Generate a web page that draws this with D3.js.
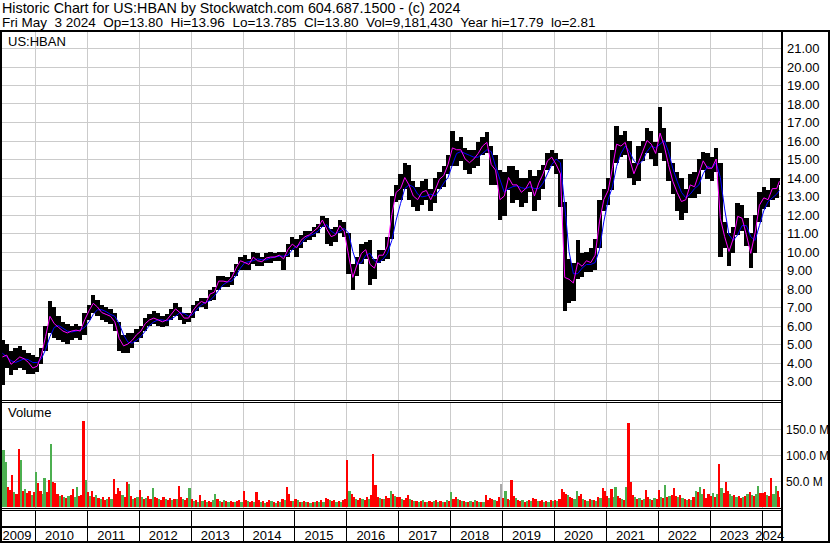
<!DOCTYPE html>
<html lang="en">
<head>
<meta charset="UTF-8">
<title>US:HBAN historic chart</title>
<script src="https://d3js.org/d3.v7.min.js"></script>
<style>
  body { margin: 0; background: #fff; }
  text { font-family: "Liberation Sans", Arial, sans-serif; font-size: 13px; fill: #000; }
</style>
</head>
<body>
<svg id="chart"></svg>
<script>
const width = 830, height = 543;

// monthly data, May 2009 .. May 2024
const firstMonth = "2009-05";
const lastDay = "2024-05-10";
const years = ["2009","2010","2011","2012","2013","2014","2015","2016","2017","2018","2019","2020","2021","2022","2023","2024"];
const priceTicks = [3,4,5,6,7,8,9,10,11,12,13,14,15,16,17,18,19,20,21];
const volTicks = [50, 100, 150];

const hi = [
  5.2, 5.0, 4.6, 4.8, 4.9, 4.7, 4.5, 4.4,
  4.3, 4.8, 6.0, 7.3, 7.0, 6.5, 6.2, 6.1, 6.0, 6.1, 6.0, 6.7,
  7.1, 7.65, 7.4, 7.1, 7.0, 6.9, 6.7, 6.2, 5.5, 5.6, 5.6, 5.8,
  6.0, 6.4, 6.6, 6.8, 6.7, 6.5, 6.6, 6.9, 7.2, 7.0, 6.7, 6.7,
  7.1, 7.3, 7.5, 7.5, 7.9, 8.1, 8.7, 8.7, 8.6, 8.9, 9.3, 9.7,
  9.8, 9.6, 10.0, 9.9, 9.7, 9.9, 10.0, 9.9, 10.0, 10.0, 10.4, 10.8,
  10.7, 10.9, 11.1, 11.1, 11.3, 11.5, 11.9, 11.8, 11.2, 11.3, 11.7, 11.6,
  11.0, 9.3, 9.7, 10.4, 10.5, 10.6, 9.6, 10.1, 10.1, 10.8, 13.0, 13.6,
  14.2, 14.8, 14.7, 13.8, 13.5, 13.8, 13.9, 13.4, 14.0, 14.3, 14.6, 15.2,
  16.5, 16.0, 16.2, 15.6, 15.5, 15.5, 15.9, 16.2, 16.45, 15.7, 15.2, 14.4,
  14.3, 14.6, 14.6, 14.4, 14.0, 14.0, 14.4, 14.1, 14.4, 14.7, 15.3, 15.5,
  15.3, 15.0, 12.7, 9.6, 9.4, 10.6, 9.9, 10.0, 10.2, 10.7, 12.8, 13.4,
  14.0, 15.5, 16.8, 16.3, 16.5, 16.0, 14.8, 15.7, 16.0, 16.7, 16.5, 15.9,
  17.8, 16.7, 15.9, 14.8, 14.3, 14.0, 13.4, 14.2, 14.3, 15.0, 15.4, 15.3,
  15.1, 15.6, 14.8, 11.6, 11.0, 11.3, 12.6, 12.5, 11.8, 11.0, 12.0, 13.2,
  13.5, 13.3, 14.0, 14.0, 14.0
];
const lo = [
  2.81, 3.7, 3.3, 3.6, 3.7, 3.6, 3.4, 3.4,
  3.5, 3.9, 4.6, 5.6, 5.3, 5.2, 5.1, 5.0, 5.2, 5.3, 5.2, 5.5,
  6.3, 6.7, 6.5, 6.3, 6.2, 6.1, 5.7, 4.6, 4.5, 4.5, 4.8, 5.1,
  5.3, 5.7, 6.0, 6.1, 6.0, 5.9, 6.0, 6.3, 6.5, 6.3, 6.1, 6.2,
  6.4, 6.8, 7.0, 6.9, 7.3, 7.4, 7.9, 8.1, 8.1, 8.2, 8.7, 9.0,
  9.0, 9.0, 9.3, 9.2, 9.2, 9.4, 9.4, 9.5, 9.5, 9.0, 9.7, 10.1,
  9.7, 10.2, 10.5, 10.6, 10.8, 11.0, 11.3, 10.4, 10.3, 10.5, 11.0, 10.8,
  8.8, 7.9, 8.7, 9.3, 9.6, 8.2, 8.5, 9.4, 9.5, 9.6, 10.7, 12.7,
  12.8, 13.4, 12.8, 12.4, 12.2, 12.5, 12.8, 12.2, 12.6, 13.4, 13.5, 14.2,
  14.6, 14.6, 14.9, 14.4, 14.2, 14.5, 14.6, 15.2, 15.3, 13.6, 13.6, 11.7,
  11.9, 13.3, 12.6, 12.8, 12.4, 12.6, 13.2, 12.2, 12.8, 13.4, 14.4, 14.6,
  14.2, 12.4, 6.8, 7.2, 7.3, 8.5, 8.6, 8.9, 8.9, 9.0, 10.2, 12.2,
  12.5, 13.3, 14.8, 15.1, 15.2, 14.0, 13.6, 13.8, 14.9, 15.3, 15.0, 14.6,
  15.3, 14.9, 13.8, 13.1, 12.2, 11.7, 12.1, 12.9, 12.9, 13.1, 14.4, 13.9,
  13.8, 14.3, 9.7, 10.2, 9.2, 9.9, 10.9, 11.1, 10.3, 9.1, 9.9, 11.6,
  12.3, 12.4, 12.8, 12.9, 13.6
];
// short moving average (magenta)
const maShort = [
  4.3, 4.4, 3.9, 4.1, 4.3, 4.2, 4.0, 3.7,
  3.8, 4.4, 5.4, 6.5, 6.1, 5.9, 5.7, 5.6, 5.7, 5.75, 5.7, 6.3,
  6.8, 7.2, 7.0, 6.7, 6.6, 6.5, 6.2, 5.3, 4.9, 5.0, 5.2, 5.5,
  5.7, 6.1, 6.3, 6.4, 6.3, 6.2, 6.3, 6.6, 6.9, 6.7, 6.4, 6.4,
  6.8, 7.1, 7.3, 7.2, 7.7, 7.8, 8.4, 8.4, 8.35, 8.6, 9.1, 9.5,
  9.4, 9.3, 9.7, 9.5, 9.45, 9.65, 9.7, 9.7, 9.8, 9.6, 10.1, 10.4,
  10.2, 10.6, 10.8, 10.9, 11.1, 11.3, 11.7, 11.2, 10.8, 10.9, 11.4, 11.1,
  9.8, 8.6, 9.3, 9.9, 10.1, 9.3, 9.1, 9.8, 9.8, 10.3, 12.0, 13.2,
  13.4, 14.0, 13.6, 13.0, 12.8, 13.2, 13.3, 12.8, 13.3, 13.9, 14.1, 14.7,
  15.6, 15.5, 15.5, 15.0, 14.8, 15.0, 15.3, 15.7, 15.9, 14.7, 14.4, 12.8,
  13.0, 14.0, 13.6, 13.6, 13.2, 13.4, 13.8, 13.0, 13.7, 14.2, 14.9, 15.1,
  14.7, 14.2, 8.6, 8.5, 8.3, 9.4, 9.2, 9.5, 9.4, 9.8, 11.6, 12.8,
  13.3, 14.5, 15.8, 15.7, 15.9, 15.0, 14.2, 14.8, 15.4, 16.0, 15.8, 15.3,
  16.4, 15.7, 14.7, 13.8, 13.2, 12.7, 12.8, 13.6, 13.5, 14.2, 14.9, 14.5,
  14.5, 15.0, 11.8, 10.8, 10.0, 10.7, 11.9, 11.8, 10.9, 9.9, 11.0, 12.5,
  12.9, 12.8, 13.4, 13.4, 13.8
];
// long moving average (blue)
const maLong = [
  4.5, 4.3, 4.1, 4.0, 4.1, 4.2, 4.15, 4.0,
  4.0, 4.2, 4.7, 5.4, 5.9, 6.0, 5.85, 5.7, 5.65, 5.7, 5.75, 5.9,
  6.2, 6.6, 6.85, 6.85, 6.75, 6.6, 6.5, 6.1, 5.5, 5.1, 5.05, 5.2,
  5.4, 5.7, 6.0, 6.2, 6.3, 6.3, 6.25, 6.35, 6.5, 6.7, 6.65, 6.5,
  6.6, 6.9, 7.1, 7.25, 7.35, 7.6, 7.9, 8.2, 8.35, 8.4, 8.7, 9.1,
  9.4, 9.45, 9.5, 9.6, 9.55, 9.55, 9.65, 9.7, 9.75, 9.75, 9.8, 10.1,
  10.3, 10.4, 10.7, 10.85, 10.95, 11.1, 11.35, 11.45, 11.1, 10.95, 11.1, 11.25,
  11.0, 10.0, 9.3, 9.4, 9.8, 9.9, 9.5, 9.4, 9.6, 9.9, 10.6, 11.7,
  12.6, 13.4, 13.6, 13.5, 13.1, 12.95, 13.0, 13.1, 13.0, 13.3, 13.7, 14.0,
  14.7, 15.3, 15.4, 15.3, 15.2, 15.1, 15.1, 15.3, 15.5, 15.4, 14.6, 13.9,
  13.2, 13.4, 13.5, 13.55, 13.45, 13.4, 13.5, 13.4, 13.4, 13.7, 14.2, 14.7,
  15.0, 14.8, 12.5, 10.0, 8.8, 8.8, 9.1, 9.3, 9.3, 9.4, 10.1, 11.6,
  12.8, 13.5, 14.6, 15.3, 15.7, 15.4, 14.9, 14.7, 14.9, 15.4, 15.7, 15.6,
  15.8, 16.0, 15.4, 14.5, 13.8, 13.2, 12.9, 13.1, 13.4, 13.6, 14.2, 14.6,
  14.5, 14.8, 14.0, 12.3, 10.9, 10.6, 10.9, 11.4, 11.4, 10.8, 10.6, 11.4,
  12.2, 12.7, 12.9, 13.1, 13.3
];

// volume in millions, two bars a month (1st and 16th)
const vol = [
  92, 109, 86, 38, 32, 60, 28, 25, 111, 90, 30, 34, 26, 30, 22, 28,
  67, 45, 30, 24, 55, 28, 51, 120, 48, 46, 25, 20, 22, 18, 16, 20, 22, 34, 18, 38, 20, 22, 165, 51,
  28, 20, 30, 18, 22, 16, 14, 18, 12, 15, 18, 14, 53, 25, 35, 30, 22, 18, 47, 44, 20, 15, 16, 18,
  31, 18, 14, 16, 20, 15, 36, 18, 16, 14, 12, 18, 14, 12, 16, 12, 15, 14, 40, 18, 14, 12, 16, 36,
  14, 10, 12, 8, 22, 10, 12, 9, 10, 8, 12, 25, 14, 10, 9, 12, 10, 8, 11, 9, 8, 10, 12, 8,
  30, 12, 10, 8, 11, 9, 27, 12, 8, 10, 7, 9, 12, 10, 9, 7, 10, 8, 14, 12, 38, 25, 11, 10,
  14, 12, 9, 8, 10, 8, 9, 7, 8, 9, 10, 8, 12, 9, 16, 14, 12, 10, 12, 9, 10, 8, 12, 14,
  90, 30, 24, 18, 14, 12, 16, 14, 12, 18, 14, 22, 101, 41, 18, 16, 14, 15, 20, 16, 29, 24, 20, 18,
  18, 14, 12, 16, 22, 14, 12, 10, 11, 9, 10, 12, 9, 8, 10, 9, 11, 12, 9, 10, 8, 9, 12, 10,
  28, 14, 18, 14, 12, 10, 11, 9, 8, 10, 9, 12, 10, 9, 8, 9, 22, 12, 16, 14, 12, 10, 18, 44,
  16, 30, 14, 12, 51, 20, 16, 12, 10, 12, 9, 11, 12, 10, 16, 14, 11, 10, 12, 9, 10, 8, 12, 10,
  12, 10, 14, 34, 28, 25, 22, 18, 16, 14, 30, 20, 25, 14, 12, 11, 14, 12, 13, 11, 18, 16, 36, 30,
  20, 16, 34, 18, 38, 20, 16, 14, 12, 38, 161, 47, 22, 18, 14, 16, 12, 14, 32, 18, 14, 12, 16, 14,
  32, 18, 16, 42, 18, 20, 22, 36, 20, 18, 22, 16, 14, 12, 15, 13, 18, 30, 28, 38, 24, 34, 16, 24,
  20, 26, 18, 24, 81, 36, 26, 47, 30, 24, 20, 22, 18, 20, 16, 18, 20, 24, 28, 22, 20, 24, 40, 26,
  26, 28, 22, 20, 55, 24, 40, 30, 18
];
// r = down, g = up, s = unchanged
const volDir =
  "gggrrrgrrgrgrrgr" +
  "grrggrrgrrrgrgrgrrggrrrg" +
  "rgrrgrgrrgrgrrrrgrrgrgrg" +
  "rgrgrrgrrgrrgrrgrgrrgrrg" +
  "rgrgrgrgrrggrgrgrgrrgrrg" +
  "rrgrrgrrgrgrrgrgrgrgrrrg" +
  "rgrgrgrgrgrgrgrrgrrgrgrr" +
  "rgrrgrrgrrgrrrrgrgrrgrgr" +
  "rgrrrgrgrgrgrgrrgrgrgrgr" +
  "grrgrgrgrgrgrgrgrrrrgrrs" +
  "rgrgrrgrrgrgrgrrgrrgrgrg" +
  "rgrrrrgrrggrrgrgrgrgrgrr" +
  "rgrggrrgrgrrrgrgrgrrgrgr" +
  "rgrgrgrrrgrgrgrgrgrggrrr" +
  "rgrgrgrrrggrgrrgrgrgrggr" +
  "rrgrrggrr";

const svg = d3.select("#chart")
    .attr("width", width)
    .attr("height", height);

const parseMonth = d3.timeParse("%Y-%m");
const start = parseMonth(firstMonth);
const endDate = d3.timeParse("%Y-%m-%d")(lastDay);
const months = d3.range(hi.length).map(i => d3.timeMonth.offset(start, i));
const monthEnd = i => (i + 1 < months.length ? months[i + 1] : endDate);

// scales
const x = d3.scaleTime()
    .domain([new Date(2010, 0, 1), new Date(2024, 0, 1)])
    .range([35, 761.6]);
const y = d3.scaleLinear().domain([3, 21]).range([381, 48]);
const yv = d3.scaleLinear().domain([0, 150]).range([506.5, 428.5]);

const left = 2, right = 781;
const priceTop = 32, priceBottom = 400;
const volTop = 403, volBottom = 508;

const yearStarts = years.slice(1).map(d => new Date(+d, 0, 1));
const grid = "#cbcbcb";

// grid lines
const g = svg.append("g").attr("shape-rendering", "crispEdges");
g.selectAll(".hgrid").data(priceTicks).join("line")
    .attr("x1", left).attr("x2", right)
    .attr("y1", d => Math.round(y(d)) + 0.5).attr("y2", d => Math.round(y(d)) + 0.5)
    .attr("stroke", grid);
g.selectAll(".vgrid").data(volTicks).join("line")
    .attr("x1", left).attr("x2", right)
    .attr("y1", d => Math.round(yv(d)) + 0.5).attr("y2", d => Math.round(yv(d)) + 0.5)
    .attr("stroke", grid);
[[priceTop, priceBottom], [volTop, volBottom]].forEach(([a, b]) => {
  g.append("g").selectAll("line").data(yearStarts).join("line")
    .attr("x1", d => Math.round(x(d)) + 0.5).attr("x2", d => Math.round(x(d)) + 0.5)
    .attr("y1", a).attr("y2", b)
    .attr("stroke", grid);
});

svg.append("clipPath").attr("id", "plot")
  .append("rect").attr("x", left).attr("y", priceTop).attr("width", right - left).attr("height", volBottom - priceTop);

// price bars
const plot = svg.append("g").attr("clip-path", "url(#plot)");
plot.append("g").attr("shape-rendering", "crispEdges")
  .selectAll("rect").data(months).join("rect")
    .attr("x", d => x(d))
    .attr("width", (d, i) => Math.max(1, x(monthEnd(i)) - x(d)))
    .attr("y", (d, i) => y(hi[i]))
    .attr("height", (d, i) => y(lo[i]) - y(hi[i]))
    .attr("fill", "#000");

const mid = (d, i) => (x(d) + x(monthEnd(i))) / 2;
const line = arr => d3.line().x(mid).y((d, i) => y(arr[i]));

plot.append("path").datum(months)
    .attr("d", line(maLong))
    .attr("fill", "none").attr("stroke", "#0000ff").attr("stroke-width", 1);
plot.append("path").datum(months)
    .attr("d", line(maShort))
    .attr("fill", "none").attr("stroke", "#ff00ff").attr("stroke-width", 1);

// volume bars
const halves = [];
months.forEach(m => { halves.push(m); halves.push(d3.timeDay.offset(m, 15)); });
const volDates = halves.slice(0, vol.length);
const volEnd = i => (i + 1 < volDates.length ? volDates[i + 1] : endDate);
const volColors = { r: "#ff0000", g: "#4caf50", s: "#a8a8a8" };

plot.append("g").attr("shape-rendering", "crispEdges")
  .selectAll("rect").data(volDates).join("rect")
    .attr("x", d => x(d))
    .attr("width", (d, i) => Math.max(1, x(volEnd(i)) - x(d)))
    .attr("y", (d, i) => yv(vol[i]))
    .attr("height", (d, i) => yv(0) - yv(vol[i]))
    .attr("fill", (d, i) => volColors[volDir[i]]);

// right axis labels
svg.append("g").selectAll("text").data(priceTicks).join("text")
    .attr("x", 787).attr("y", d => y(d) + 5)
    .text(d => d3.format(".2f")(d));
svg.append("g").selectAll("text").data(volTicks).join("text")
    .attr("x", 786).attr("y", d => yv(d) + 5)
    .style("font-size", "12px")
    .text(d => d3.format(".1f")(d) + " M");

// frame
const frame = svg.append("g").attr("shape-rendering", "crispEdges");
frame.append("rect").attr("x", 828).attr("y", 30).attr("width", 2).attr("height", 513).attr("fill", "#000");
frame.append("rect").attr("x", 0).attr("y", 30).attr("width", 830).attr("height", 2).attr("fill", "#000");
frame.append("rect").attr("x", 0).attr("y", 30).attr("width", 2).attr("height", 513).attr("fill", "#000");
frame.append("rect").attr("x", right).attr("y", 30).attr("width", 2).attr("height", 513).attr("fill", "#000");
frame.append("rect").attr("x", 0).attr("y", 541).attr("width", 830).attr("height", 2).attr("fill", "#000");
[400.5, 402.5, 508.5, 510.5].forEach(v => {
  frame.append("line").attr("x1", left).attr("x2", right).attr("y1", v).attr("y2", v).attr("stroke", "#000");
});
frame.append("rect").attr("x", 0).attr("y", 526).attr("width", right).attr("height", 2).attr("fill", "#000");
frame.selectAll(".ysep").data(yearStarts).join("line")
    .attr("x1", d => Math.round(x(d)) + 0.5).attr("x2", d => Math.round(x(d)) + 0.5)
    .attr("y1", 511).attr("y2", 541)
    .attr("stroke", "#000");

// year labels, centred in their span
svg.append("g").selectAll("text").data(years).join("text")
    .attr("x", d => {
      const a = Math.max(left, x(new Date(+d, 0, 1)));
      const b = Math.min(right, x(new Date(+d + 1, 0, 1)));
      return (a + b) / 2 - 1.5;
    })
    .attr("y", 540)
    .attr("text-anchor", "middle")
    .text(d => d);

// titles (double spaces kept with no-break spaces)
const keepSpaces = s => s.replace(/  /g, " \u00a0");
svg.append("text").attr("x", 2).attr("y", 12.5)
    .style("font-size", "14.3px")
    .text("Historic Chart for US:HBAN by Stockwatch.com 604.687.1500 - (c) 2024");
svg.append("text").attr("x", 2).attr("y", 26.5)
    .style("font-size", "13.5px")
    .text(keepSpaces("Fri May  3 2024  Op=13.80  Hi=13.96  Lo=13.785  Cl=13.80  Vol=9,181,430  Year hi=17.79  lo=2.81"));
svg.append("text").attr("x", 8).attr("y", 46).text("US:HBAN");
svg.append("text").attr("x", 8).attr("y", 417).text("Volume");
</script>
</body>
</html>
